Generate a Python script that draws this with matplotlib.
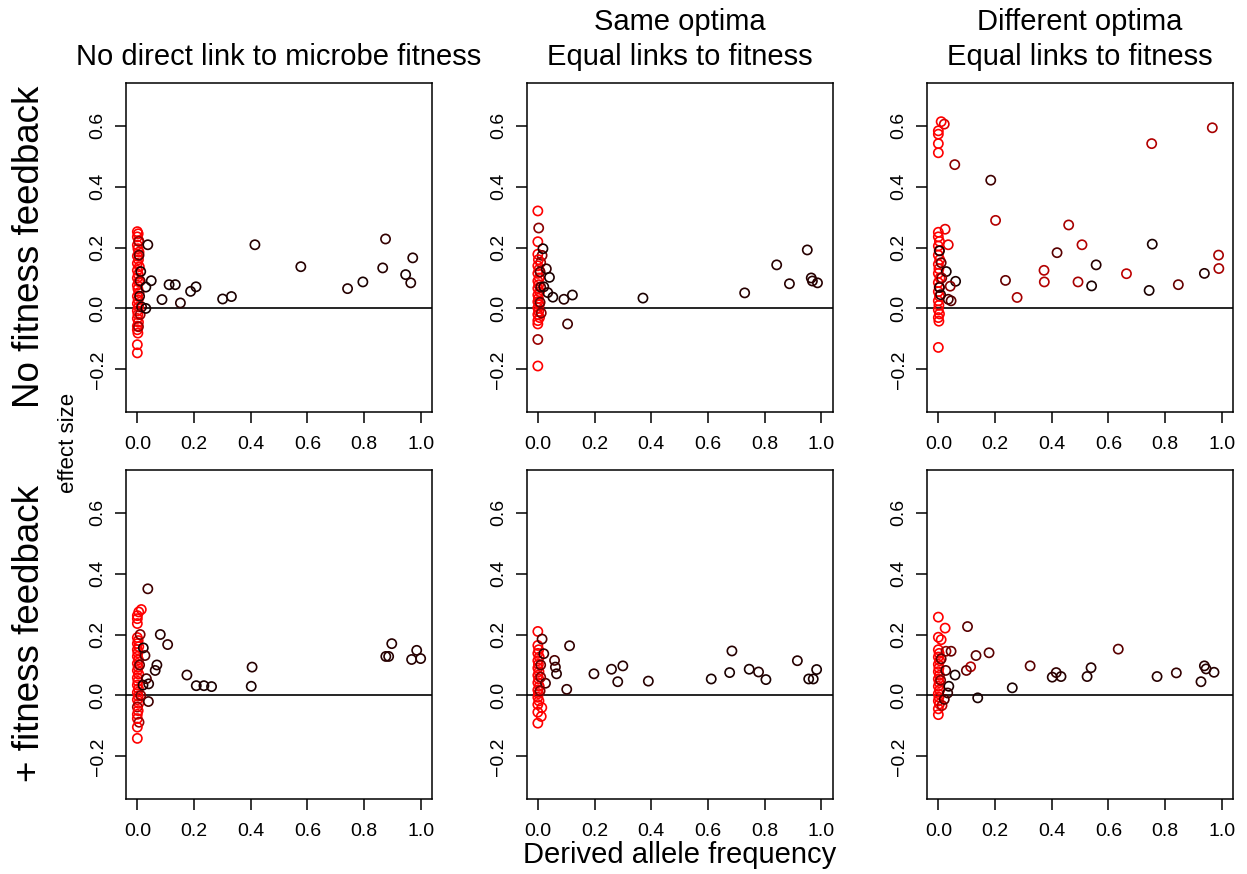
"""
Effect size vs derived allele frequency, 2x3 grid
(rows: fitness feedback off/on; cols: microbe-fitness link scenario).
Writes out.png
"""

import matplotlib
matplotlib.use("Agg")
import matplotlib.pyplot as plt

plt.rcParams['font.family'] = ['Liberation Sans', 'DejaVu Sans']

# ─── Data ─────────────────────────────────────────────────────────────
# shade: 1.0 = pure red, 0.0 = black (colour ramp black -> red)

# Row 1, col 1: no fitness feedback, no direct link
freq_nofb_nolink = [
    0.0, 0.003, 0.0, 0.005, 0.0, 0.002, 0.006, 0.0, 0.004, 0.0,
    0.007, 0.0, 0.003, 0.0, 0.005, 0.0, 0.002, 0.006, 0.0, 0.003,
    0.0, 0.005, 0.0, 0.002, 0.0, 0.004, 0.0, 0.0, 0.002, 0.0, 0.0,
    0.012, 0.006, 0.01, 0.008, 0.015, 0.01, 0.005, 0.004,
    0.037, 0.03, 0.03, 0.049, 0.087, 0.112, 0.134, 0.152, 0.188, 0.207,
    0.301, 0.332, 0.415, 0.577, 0.742, 0.796, 0.866, 0.876, 0.947, 0.972,
    0.965,
]
eff_nofb_nolink = [
    0.252, 0.245, 0.235, 0.222, 0.208, 0.196, 0.185, 0.172, 0.16, 0.148,
    0.137, 0.125, 0.112, 0.1, 0.088, 0.076, 0.064, 0.052, 0.04, 0.028,
    0.016, 0.005, -0.008, -0.02, -0.033, -0.045, -0.058, -0.07, -0.081, -0.119, -0.146,
    0.121, 0.175, 0.09, 0.04, 0.005, -0.02, 0.22, -0.06,
    0.209, 0.07, 0.0, 0.091, 0.029, 0.078, 0.078, 0.018, 0.056, 0.071,
    0.031, 0.039, 0.209, 0.137, 0.065, 0.087, 0.133, 0.228, 0.111, 0.166,
    0.084,
]
shade_nofb_nolink = [
    1, 1, 1, 1, 1, 1, 1, 1, 1, 1,
    1, 1, 1, 1, 1, 1, 1, 1, 1, 1,
    1, 1, 1, 1, 1, 1, 1, 1, 1, 1, 1,
    0.1, 0.35, 0.35, 0.2, 0.2, 0.6, 0.6, 0.6,
    0.15, 0.1, 0.1, 0.1, 0.1, 0.1, 0.1, 0.15, 0.1, 0.1,
    0.1, 0.1, 0.15, 0.15, 0.15, 0.1, 0.15, 0.2, 0.1, 0.15,
    0.15,
]

# Row 1, col 2: no fitness feedback, same optima
freq_nofb_same = [
    0.0, 0.003, 0.0, 0.0, 0.015, 0.01, 0.002, 0.0, 0.004, 0.0,
    0.005, 0.0, 0.003, 0.0, 0.006, 0.0, 0.002, 0.0, 0.005, 0.0,
    0.003, 0.0, 0.006, 0.0, 0.0, 0.0, 0.0, 0.008, 0.01, 0.008, 0.012,
    0.018, 0.03, 0.041, 0.021, 0.035, 0.053, 0.092, 0.122, 0.371, 0.105,
    0.73, 0.843, 0.888, 0.951, 0.965, 0.969, 0.987,
]
eff_nofb_same = [
    0.32, 0.264, 0.219, 0.178, 0.174, 0.151, 0.16, 0.14, 0.128, 0.115,
    0.1, 0.09, 0.078, 0.066, 0.055, 0.044, 0.033, 0.022, 0.012, 0.002,
    -0.01, -0.02, -0.03, -0.04, -0.051, -0.102, -0.189, 0.12, 0.07, 0.02, -0.015,
    0.196, 0.13, 0.102, 0.071, 0.052, 0.037, 0.03, 0.044, 0.034, -0.051,
    0.051, 0.143, 0.081, 0.192, 0.1, 0.09, 0.084,
]
shade_nofb_same = [
    1, 0.55, 1, 1, 0.5, 0.6, 1, 1, 1, 1,
    1, 1, 1, 1, 1, 1, 1, 1, 1, 1,
    1, 1, 1, 1, 1, 0.6, 1, 0.4, 0.3, 0.4, 0.5,
    0.1, 0.2, 0.1, 0.15, 0.15, 0.1, 0.15, 0.1, 0.1, 0.25,
    0.15, 0.15, 0.15, 0.15, 0.15, 0.15, 0.15,
]

# Row 1, col 3: no fitness feedback, different optima
freq_nofb_diff = [
    0.01, 0.021, 0.0, 0.0, 0.0, 0.0, 0.024, 0.035, 0.0, 0.0,
    0.004, 0.0, 0.003, 0.0, 0.005, 0.0, 0.002, 0.0, 0.006, 0.0,
    0.003, 0.0, 0.004, 0.0, 0.002, 0.0, 0.004, 0.0, 0.002, 0.0,
    0.004, 0.004, 0.028, 0.061, 0.042, 0.045, 0.035, 0.01, 0.008, 0.012,
    0.058, 0.185, 0.202, 0.46, 0.507, 0.419, 0.755, 0.989, 0.99, 0.557,
    0.373, 0.664, 0.939, 0.237, 0.374, 0.493, 0.541, 0.847, 0.744, 0.278,
    0.753, 0.967,
]
eff_nofb_diff = [
    0.613, 0.605, 0.583, 0.572, 0.541, 0.511, 0.26, 0.209, 0.25, 0.235,
    0.22, 0.205, 0.19, 0.175, 0.16, 0.145, 0.13, 0.115, 0.1, 0.085,
    0.07, 0.055, 0.04, 0.025, 0.01, -0.005, -0.018, -0.03, -0.042, -0.128,
    0.189, 0.069, 0.121, 0.089, 0.073, 0.025, 0.03, 0.15, 0.045, 0.1,
    0.472, 0.421, 0.289, 0.274, 0.209, 0.183, 0.211, 0.175, 0.131, 0.143,
    0.125, 0.114, 0.115, 0.092, 0.087, 0.087, 0.074, 0.078, 0.059, 0.036,
    0.541, 0.593,
]
shade_nofb_diff = [
    1, 0.85, 1, 1, 1, 1, 0.9, 0.9, 1, 1,
    1, 1, 1, 1, 1, 1, 1, 1, 1, 1,
    1, 1, 1, 1, 1, 1, 1, 1, 1, 1,
    0.1, 0.1, 0.1, 0.1, 0.55, 0.35, 0.3, 0.4, 0.2, 0.5,
    0.55, 0.25, 0.7, 0.65, 0.7, 0.35, 0.1, 0.65, 0.65, 0.15,
    0.7, 0.75, 0.15, 0.4, 0.7, 0.65, 0.1, 0.4, 0.1, 0.65,
    0.7, 0.65,
]

# Row 2, col 1: + fitness feedback, no direct link
freq_fb_nolink = [
    0.014, 0.005, 0.0, 0.0, 0.0, 0.0, 0.003, 0.0, 0.005, 0.0,
    0.002, 0.0, 0.004, 0.0, 0.003, 0.0, 0.005, 0.0, 0.002, 0.0,
    0.004, 0.0, 0.003, 0.0, 0.005, 0.0, 0.003, 0.0, 0.0, 0.006,
    0.0, 0.0,
    0.021, 0.027, 0.02, 0.04, 0.039, 0.032, 0.01, 0.008, 0.012,
    0.037, 0.081, 0.107, 0.069, 0.063, 0.175, 0.208, 0.235, 0.262, 0.405,
    0.402, 0.877, 0.887, 0.898, 0.968, 0.986, 1.0,
]
eff_fb_nolink = [
    0.282, 0.274, 0.262, 0.252, 0.236, 0.19, 0.18, 0.17, 0.16, 0.15,
    0.14, 0.128, 0.117, 0.105, 0.093, 0.082, 0.07, 0.058, 0.046, 0.034,
    0.022, 0.01, -0.002, -0.014, -0.026, -0.038, -0.05, -0.062, -0.076, -0.088,
    -0.104, -0.141,
    0.156, 0.131, 0.034, 0.038, -0.02, 0.055, 0.2, 0.1, 0.0,
    0.35, 0.2, 0.167, 0.1, 0.082, 0.067, 0.032, 0.032, 0.029, 0.093,
    0.03, 0.128, 0.128, 0.17, 0.118, 0.148, 0.121,
]
shade_fb_nolink = [
    1, 1, 1, 1, 1, 1, 1, 1, 1, 1,
    1, 1, 1, 1, 1, 1, 1, 1, 1, 1,
    1, 1, 1, 1, 1, 0.6, 1, 1, 1, 0.6,
    1, 1,
    0.1, 0.3, 0.1, 0.15, 0.25, 0.3, 0.5, 0.4, 0.5,
    0.25, 0.15, 0.2, 0.15, 0.15, 0.15, 0.1, 0.1, 0.1, 0.15,
    0.1, 0.15, 0.15, 0.15, 0.15, 0.15, 0.15,
]

# Row 2, col 2: + fitness feedback, same optima
freq_fb_same = [
    0.0, 0.0, 0.003, 0.0, 0.005, 0.0, 0.002, 0.0, 0.004, 0.0,
    0.003, 0.0, 0.005, 0.0, 0.002, 0.0, 0.004, 0.0, 0.014, 0.012,
    0.0, 0.0,
    0.015, 0.021, 0.027, 0.01, 0.01, 0.008,
    0.112, 0.059, 0.062, 0.066, 0.102, 0.198, 0.26, 0.3, 0.282, 0.39,
    0.612, 0.685, 0.677, 0.746, 0.779, 0.805, 0.916, 0.956, 0.972, 0.984,
]
eff_fb_same = [
    0.21, 0.164, 0.15, 0.138, 0.126, 0.114, 0.102, 0.09, 0.078, 0.066,
    0.054, 0.042, 0.03, 0.018, 0.006, -0.006, -0.018, -0.03, -0.04, -0.069,
    -0.055, -0.091,
    0.185, 0.137, 0.04, 0.1, 0.06, 0.015,
    0.163, 0.115, 0.093, 0.071, 0.02, 0.071, 0.086, 0.097, 0.045, 0.047,
    0.054, 0.146, 0.075, 0.086, 0.077, 0.052, 0.114, 0.054, 0.054, 0.085,
]
shade_fb_same = [
    1, 1, 1, 1, 1, 1, 1, 1, 1, 1,
    1, 1, 1, 1, 1, 1, 1, 1, 1, 1,
    1, 1,
    0.3, 0.2, 0.25, 0.4, 0.5, 0.5,
    0.2, 0.3, 0.2, 0.15, 0.2, 0.15, 0.15, 0.15, 0.15, 0.15,
    0.1, 0.15, 0.1, 0.1, 0.15, 0.1, 0.15, 0.1, 0.1, 0.1,
]

# Row 2, col 3: + fitness feedback, different optima
freq_fb_diff = [
    0.0, 0.024, 0.0, 0.01, 0.0, 0.003, 0.0, 0.005, 0.0, 0.002,
    0.0, 0.004, 0.0, 0.003, 0.0, 0.005, 0.0, 0.002, 0.0, 0.004,
    0.0, 0.0, 0.013,
    0.027, 0.026, 0.037, 0.033, 0.021, 0.01, 0.008,
    0.103, 0.045, 0.133, 0.179, 0.114, 0.099, 0.059, 0.139, 0.261, 0.324,
    0.402, 0.416, 0.433, 0.525, 0.539, 0.635, 0.772, 0.84, 0.927, 0.939,
    0.945, 0.973,
]
eff_fb_diff = [
    0.257, 0.221, 0.191, 0.183, 0.15, 0.138, 0.126, 0.114, 0.102, 0.09,
    0.078, 0.066, 0.054, 0.042, 0.03, 0.018, 0.006, -0.006, -0.018, -0.028,
    -0.044, -0.063, -0.033,
    0.145, 0.082, 0.03, 0.008, -0.013, 0.12, 0.05,
    0.226, 0.145, 0.131, 0.14, 0.094, 0.082, 0.067, -0.008, 0.025, 0.097,
    0.06, 0.075, 0.062, 0.062, 0.091, 0.152, 0.062, 0.074, 0.045, 0.097,
    0.087, 0.076,
]
shade_fb_diff = [
    1, 1, 1, 1, 1, 1, 1, 1, 1, 1,
    1, 1, 1, 1, 1, 1, 1, 1, 1, 1,
    1, 1, 0.7,
    0.6, 0.3, 0.1, 0.2, 0.3, 0.4, 0.5,
    0.35, 0.4, 0.35, 0.35, 0.7, 0.4, 0.1, 0.1, 0.1, 0.35,
    0.15, 0.2, 0.15, 0.15, 0.15, 0.35, 0.15, 0.2, 0.15, 0.15,
    0.15, 0.15,
]

col_titles = [
    ["No direct link to microbe fitness"],
    ["Same optima", "Equal links to fitness"],
    ["Different optima", "Equal links to fitness"],
]
row_labels = ["No fitness feedback", "+ fitness feedback"]

x_ticks = [0.0, 0.2, 0.4, 0.6, 0.8, 1.0]
y_ticks = [-0.2, 0.0, 0.2, 0.4, 0.6]

W, H = 1247, 874


def panel(ax, freq, eff, shade):
    assert len(freq) == len(eff) == len(shade)
    cols = [(s, 0.0, 0.0) for s in shade]
    ax.axhline(0.0, color='black', linewidth=1.2, zorder=1)
    ax.scatter(freq, eff, s=44, facecolors='none', edgecolors=cols,
               linewidths=1.2, zorder=2)
    ax.set_xlim(-0.04, 1.04)
    ax.set_ylim(-0.34, 0.74)
    ax.set_xticks(x_ticks)
    ax.set_yticks(y_ticks)
    ax.tick_params(length=8, width=1.1, labelsize=14, direction='out')
    ax.tick_params(axis='x', pad=9)
    ax.tick_params(axis='y', pad=6)
    for lab in ax.get_yticklabels():
        lab.set_rotation(90)
        lab.set_va('center')
    for sp in ax.spines.values():
        sp.set_linewidth(1.1)


def main():
    fig = plt.figure(figsize=(W / 100, H / 100), dpi=100)

    lefts = [126, 526.5, 927]
    tops = [83, 470]
    pw, ph = 306, 329

    data = [
        [(freq_nofb_nolink, eff_nofb_nolink, shade_nofb_nolink),
         (freq_nofb_same, eff_nofb_same, shade_nofb_same),
         (freq_nofb_diff, eff_nofb_diff, shade_nofb_diff)],
        [(freq_fb_nolink, eff_fb_nolink, shade_fb_nolink),
         (freq_fb_same, eff_fb_same, shade_fb_same),
         (freq_fb_diff, eff_fb_diff, shade_fb_diff)],
    ]

    for r in range(2):
        for c in range(3):
            ax = fig.add_axes([lefts[c] / W, 1 - (tops[r] + ph) / H,
                               pw / W, ph / H])
            panel(ax, *data[r][c])
            if r == 0:
                lines = col_titles[c]
                ys = [57, 22][:len(lines)][::-1] if len(lines) == 2 else [57]
                for txt, yy in zip(lines, ys):
                    fig.text((lefts[c] + pw / 2) / W, 1 - yy / H, txt,
                             ha='center', va='center', fontsize=21)

    # row labels
    fig.text(30 / W, 1 - 247 / H, row_labels[0], rotation=90,
             ha='center', va='center', fontsize=26.5)
    fig.text(30 / W, 1 - 634 / H, row_labels[1], rotation=90,
             ha='center', va='center', fontsize=26.5)
    fig.text(68 / W, 1 - 443 / H, "effect size", rotation=90,
             ha='center', va='center', fontsize=16)
    fig.text(680 / W, 1 - 855 / H, "Derived allele frequency",
             ha='center', va='center', fontsize=21)

    fig.savefig("out.png", dpi=100)
    plt.close(fig)


if __name__ == "__main__":
    main()
